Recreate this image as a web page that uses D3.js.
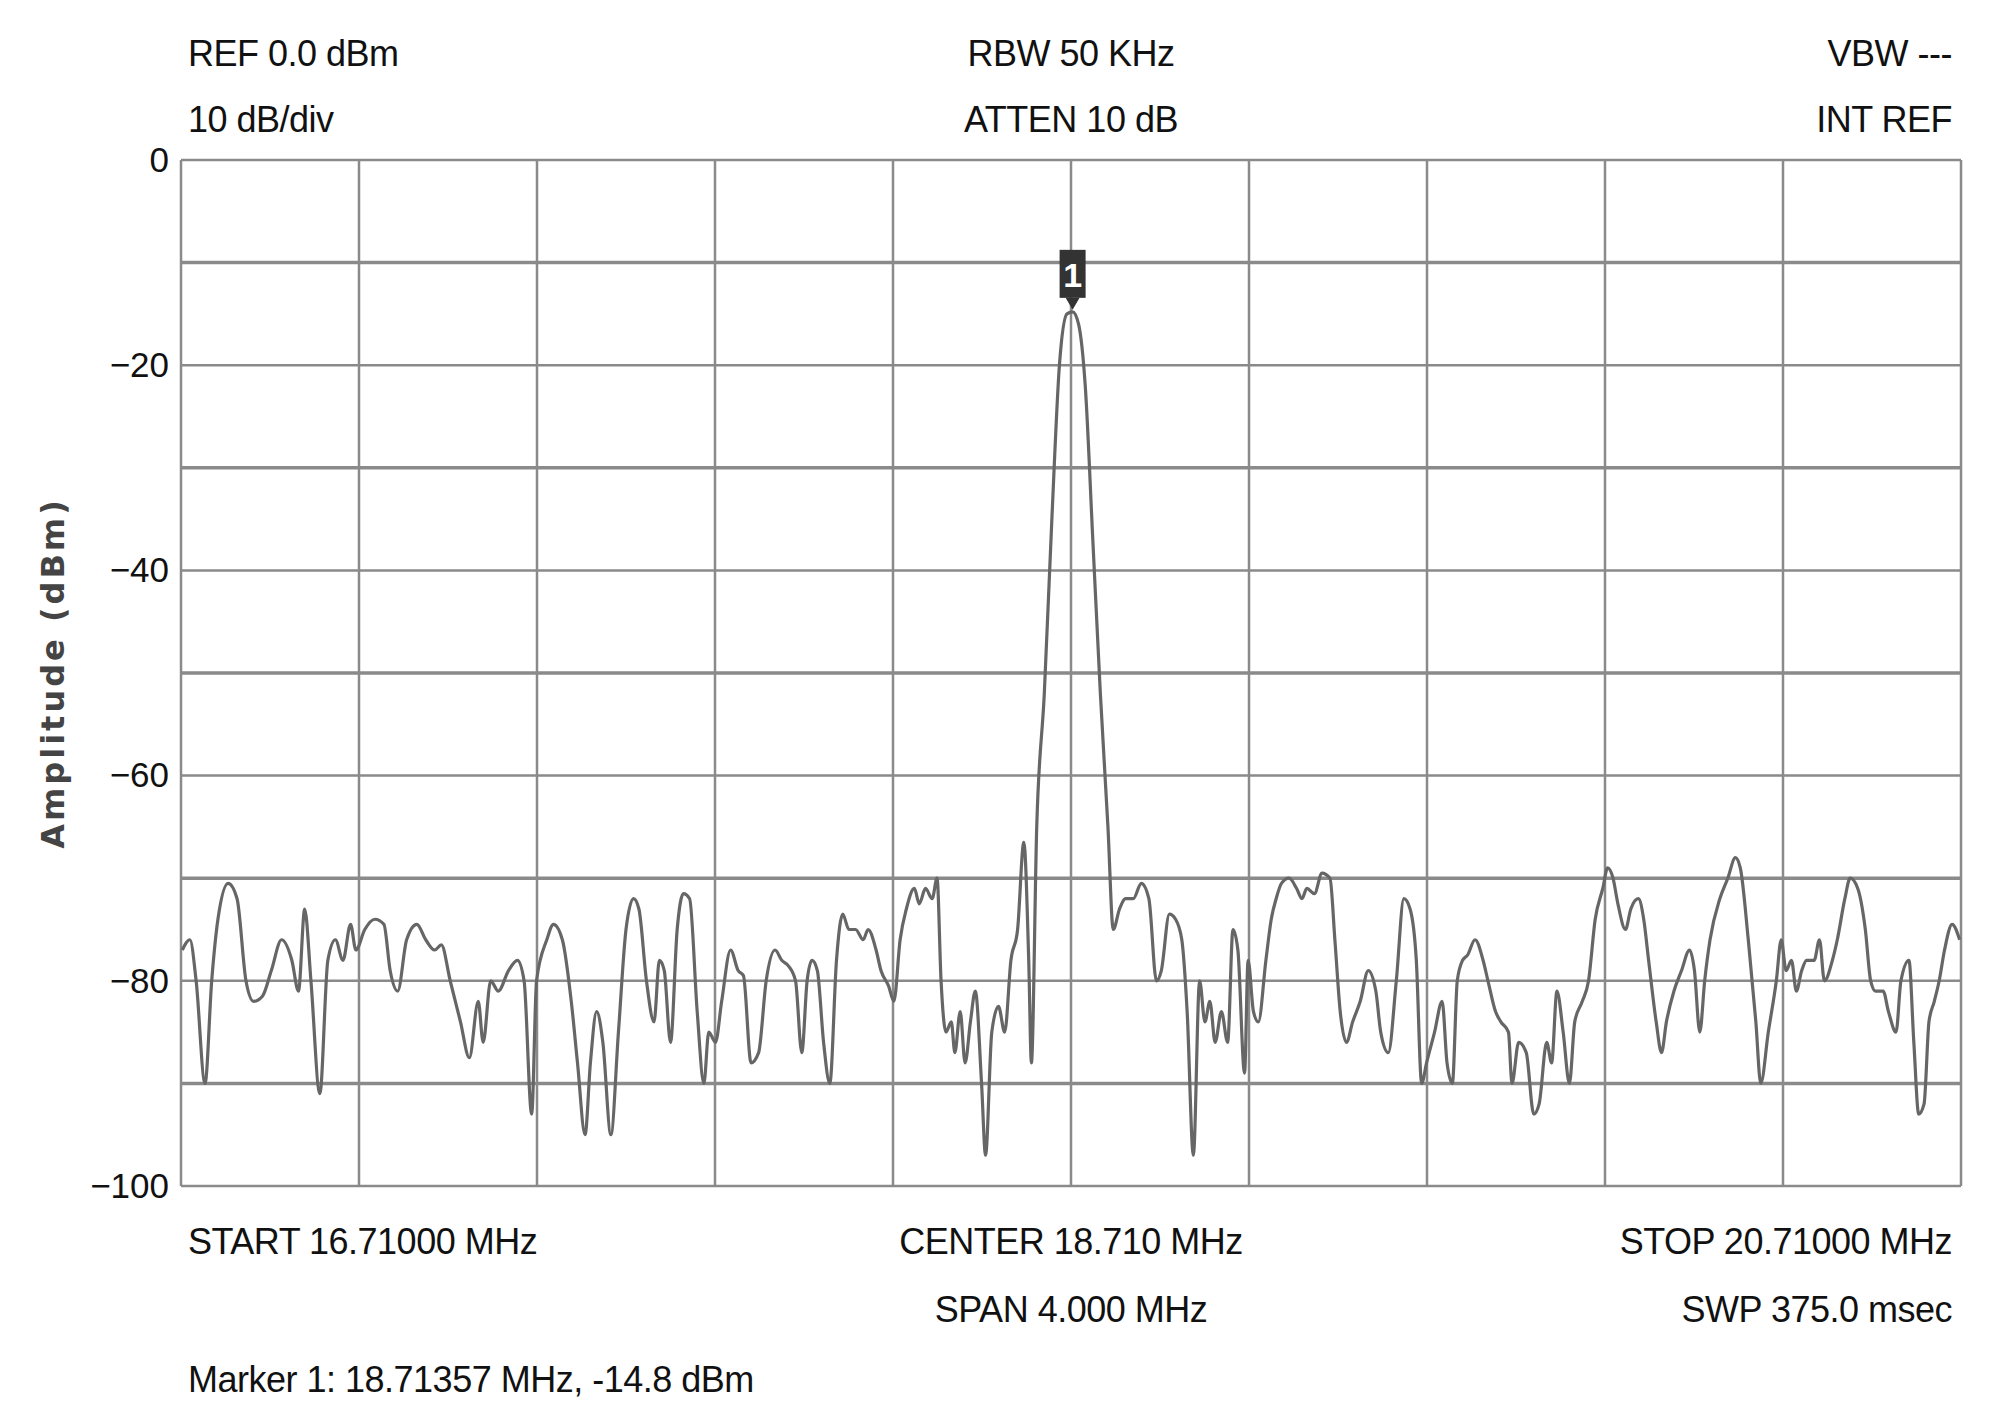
<!DOCTYPE html>
<html><head><meta charset="utf-8">
<script src="https://cdn.jsdelivr.net/npm/d3@7"></script>
<style>body{margin:0;background:#fff}svg text{font-family:"Liberation Sans",sans-serif;fill:#111}</style>
</head><body><svg id="c" width="2000" height="1423"></svg>
<script>
const freqMHz=[16.713,16.730,16.744,16.764,16.779,16.793,16.816,16.836,16.856,16.873,16.893,16.913,16.936,16.959,16.974,16.988,17.002,17.022,17.040,17.057,17.074,17.091,17.103,17.123,17.146,17.166,17.180,17.197,17.217,17.240,17.260,17.280,17.295,17.315,17.338,17.358,17.378,17.389,17.406,17.423,17.446,17.466,17.481,17.498,17.509,17.532,17.547,17.567,17.587,17.601,17.618,17.630,17.644,17.658,17.676,17.693,17.710,17.727,17.739,17.756,17.773,17.785,17.796,17.810,17.825,17.839,17.853,17.870,17.885,17.896,17.911,17.925,17.945,17.962,17.974,17.991,18.008,18.025,18.045,18.060,18.074,18.091,18.105,18.117,18.128,18.140,18.154,18.168,18.183,18.197,18.211,18.226,18.243,18.254,18.272,18.283,18.300,18.312,18.326,18.340,18.358,18.369,18.383,18.398,18.409,18.418,18.429,18.441,18.449,18.461,18.472,18.484,18.495,18.509,18.518,18.532,18.547,18.561,18.575,18.590,18.604,18.615,18.621,18.633,18.650,18.667,18.684,18.701,18.7136,18.727,18.742,18.759,18.776,18.793,18.805,18.819,18.833,18.850,18.868,18.885,18.902,18.913,18.931,18.945,18.959,18.971,18.985,18.999,19.011,19.022,19.034,19.048,19.062,19.074,19.085,19.100,19.108,19.120,19.131,19.148,19.160,19.171,19.183,19.200,19.217,19.229,19.240,19.257,19.274,19.292,19.303,19.315,19.329,19.343,19.360,19.378,19.395,19.406,19.423,19.441,19.458,19.472,19.486,19.498,19.509,19.527,19.544,19.555,19.567,19.578,19.590,19.601,19.618,19.636,19.647,19.664,19.676,19.693,19.701,19.716,19.733,19.750,19.762,19.779,19.790,19.802,19.816,19.830,19.842,19.859,19.873,19.888,19.905,19.916,19.928,19.939,19.956,19.968,19.985,19.997,20.008,20.025,20.037,20.048,20.065,20.082,20.100,20.111,20.123,20.134,20.146,20.168,20.186,20.203,20.214,20.232,20.249,20.260,20.277,20.295,20.306,20.317,20.329,20.340,20.352,20.363,20.380,20.392,20.403,20.421,20.432,20.449,20.461,20.478,20.495,20.507,20.518,20.535,20.547,20.564,20.575,20.593,20.604,20.615,20.627,20.638,20.650,20.661,20.673,20.690,20.707];
const amplitudeDbm=[-77,-76,-80,-90,-80,-74,-70.5,-72,-80,-82,-81.5,-79,-76,-78,-81,-73,-80,-91,-78,-76,-78,-74.5,-77,-75,-74,-74.5,-79,-81,-76,-74.5,-76,-77,-76.5,-80,-84,-87.5,-82,-86,-80,-81,-79,-78,-80,-93,-80,-76,-74.5,-76,-82,-88,-95,-88,-83,-86,-95,-85,-75,-72,-73,-80,-84,-78,-79,-86,-75,-71.5,-72,-83,-90,-85,-86,-82,-77,-79,-79.5,-88,-87,-80,-77,-78,-78.5,-80,-87,-80,-78,-79,-86,-90,-78,-73.5,-75,-75,-76,-75,-77,-79,-80.5,-82,-76,-73,-71,-72.5,-71,-72,-70,-80,-85,-84,-87,-83,-88,-84,-81,-90,-97,-85,-82.5,-85,-78,-75,-66.5,-78,-88,-65,-52,-35,-20,-15,-14.8,-16,-22,-37,-52,-65,-75,-73,-72,-72,-70.5,-72,-80,-79,-73.5,-74,-76,-83,-97,-80,-84,-82,-86,-83,-86,-75,-77,-89,-78,-83,-84,-78,-74,-72,-70.5,-70,-71,-72,-71,-71.5,-69.5,-70,-76,-83,-86,-84,-82,-79,-81,-85,-87,-80,-72,-73,-78,-90,-88,-85,-82,-88,-90,-80,-78,-77.5,-76,-78,-80,-83,-84,-85,-90,-86,-87,-93,-92,-86,-88,-81,-85,-90,-84,-82,-80,-74,-71,-69,-70,-72.5,-75,-73,-72,-74,-78,-84,-87,-84,-81,-79,-77,-79,-85,-80,-76,-72,-70,-68,-69,-76,-84,-90,-85,-80,-76,-79,-78,-81,-79,-78,-78,-76,-80,-78,-76,-72,-70,-71,-75,-80,-81,-81,-83,-85,-80,-78,-86,-93,-92,-84,-82,-80,-77,-74.5,-76];
const yTickLabels=[0,-20,-40,-60,-80,-100];
const headerLeft=["REF 0.0 dBm","10 dB/div"], headerCenter=["RBW 50 KHz","ATTEN 10 dB"], headerRight=["VBW ---","INT REF"];
const footerLeft=["START 16.71000 MHz"], footerCenter=["CENTER 18.710 MHz","SPAN 4.000 MHz"], footerRight=["STOP 20.71000 MHz","SWP 375.0 msec"];
const markerText="Marker 1: 18.71357 MHz, -14.8 dBm";
const marker={f:18.7136,a:-14.8};

const svg=d3.select("#c");
const L=181,R=1961,T=160,B=1186;
const x=d3.scaleLinear().domain([16.71,20.71]).range([L,R]);
const y=d3.scaleLinear().domain([-100,0]).range([B,T]);
const g=svg.append("g");
g.selectAll(".v").data(d3.range(11)).join("line").attr("x1",i=>x(16.71+0.4*i)).attr("x2",i=>x(16.71+0.4*i)).attr("y1",T).attr("y2",B).attr("stroke","#8a8a8a").attr("stroke-width",2.5);
g.selectAll(".h").data(d3.range(11)).join("line").attr("y1",i=>y(-10*i)).attr("y2",i=>y(-10*i)).attr("x1",L).attr("x2",R).attr("stroke","#8a8a8a").attr("stroke-width",i=>i%2?3.5:2.5);
const ax=svg.append("g").attr("transform",`translate(${L},0)`).call(d3.axisLeft(y).tickValues(yTickLabels).tickSize(0).tickPadding(12).tickFormat(d=>d===0?"0":"\u2212"+Math.abs(d)));
ax.select(".domain").remove();
ax.selectAll("text").style("font-size","35px").style("font-family","'Liberation Sans',sans-serif").attr("fill","#111");
svg.append("text").attr("transform",`translate(64,${(T+B)/2}) rotate(-90)`).attr("text-anchor","middle").style("font-family","'DejaVu Sans',sans-serif").style("font-size","32px").style("font-weight","600").style("letter-spacing","3px").style("fill","#444").text("Amplitude (dBm)");
svg.append("path").datum(freqMHz.map((f,i)=>[f,amplitudeDbm[i]])).attr("fill","none").attr("stroke","#666").attr("stroke-width",3.2).attr("stroke-linejoin","round").attr("d",d3.line().curve(d3.curveMonotoneX).x(d=>x(d[0])).y(d=>y(d[1])));
svg.append("path").attr("d",`M${x(marker.f)},${y(marker.a)-2} l-7,-12 h14 z`).attr("fill","#333");
svg.append("rect").attr("x",x(marker.f)-13).attr("y",y(marker.a)-62).attr("width",26).attr("height",48).attr("fill","#333");
svg.append("text").attr("x",x(marker.f)).attr("y",y(marker.a)-25).attr("text-anchor","middle").style("font-size","34px").style("font-weight","bold").style("fill","#fff").text("1");
function txt(arr,xp,anchor,ys){arr.forEach((t,i)=>svg.append("text").attr("x",xp).attr("y",ys[i]).attr("text-anchor",anchor).style("font-size","36px").style("letter-spacing","-0.5px").text(t));}
const cx=x(18.71);
txt(headerLeft,188,"start",[66,132]);txt(headerCenter,cx,"middle",[66,132]);txt(headerRight,1952,"end",[66,132]);
txt(footerLeft,188,"start",[1254]);txt(footerCenter,cx,"middle",[1254,1322]);txt(footerRight,1952,"end",[1254,1322]);
txt([markerText],188,"start",[1392]);
</script></body></html>
